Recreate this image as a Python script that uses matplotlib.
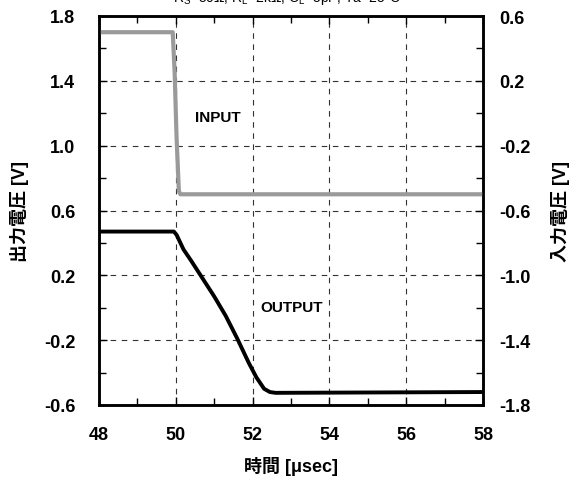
import matplotlib
matplotlib.use("Agg")
import matplotlib.pyplot as plt
from matplotlib.ticker import MultipleLocator

plt.rcParams['font.family'] = ['Liberation Sans', 'Noto Sans CJK JP', 'DejaVu Sans']
plt.rcParams['mathtext.fontset'] = 'custom'
plt.rcParams['mathtext.rm'] = 'Liberation Sans'
plt.rcParams['mathtext.it'] = 'Liberation Sans'
plt.rcParams['mathtext.bf'] = 'Liberation Sans:bold'

# Data
input_t = [48.0, 49.92, 49.97, 50.02, 50.08, 50.12, 58.0]
input_v = [0.5, 0.5, 0.25, -0.15, -0.48, -0.5, -0.5]

output_t = [48.0, 49.95, 50.02, 50.1, 50.2, 50.4, 50.7, 51.0, 51.3, 51.6, 51.9, 52.1, 52.3, 52.45, 52.6, 58.0]
output_v = [0.47, 0.47, 0.45, 0.41, 0.36, 0.29, 0.18, 0.07, -0.05, -0.19, -0.34, -0.43, -0.50, -0.52, -0.525, -0.52]

x_ticks = [48, 50, 52, 54, 56, 58]
left_ticks = [-0.6, -0.2, 0.2, 0.6, 1.0, 1.4, 1.8]
right_ticks = [-1.8, -1.4, -1.0, -0.6, -0.2, 0.2, 0.6]

title = r"R$_S$=50Ω, R$_L$=2kΩ, C$_L$=5pF, Ta=25°C"

fig = plt.figure(figsize=(5.72, 4.85), dpi=100)
ax = fig.add_axes([99/572, 1-406/485, (483-99)/572, (406-17)/485])
ax2 = ax.twinx()

ax.set_xlim(48, 58)
ax.set_ylim(-0.6, 1.8)
ax2.set_ylim(-1.8, 0.6)

ax2.plot(input_t, input_v, color='#9a9a9a', lw=3.0, solid_capstyle='butt')
ax.plot(output_t, output_v, color='black', lw=2.8, solid_capstyle='butt')

ax.set_xticks(x_ticks)
ax.set_xticklabels([f"{v:d}" for v in x_ticks])
ax.set_yticks(left_ticks)
ax.set_yticklabels([f"{v:.1f}" for v in left_ticks])
ax2.set_yticks(right_ticks)
ax2.set_yticklabels([f"{v:.1f}" for v in right_ticks])
ax.xaxis.set_minor_locator(MultipleLocator(1))
ax.yaxis.set_minor_locator(MultipleLocator(0.2))
ax2.yaxis.set_minor_locator(MultipleLocator(0.2))

ax.grid(True, which='major', linestyle=(0, (5, 5)), color='#333333', lw=0.8)

for a in (ax, ax2):
    for s in a.spines.values():
        s.set_linewidth(1.8)
    a.tick_params(which='both', direction='in', width=1.0)
    a.tick_params(which='major', length=6, labelsize=13)
    a.tick_params(which='minor', length=5)
    for lbl in a.get_xticklabels() + a.get_yticklabels():
        lbl.set_fontweight('bold')
ax.tick_params(axis='x', which='both', top=True, pad=15)
ax.tick_params(axis='y', pad=17)
ax2.tick_params(axis='y', pad=12)

fig.text(291/572, 1-467/485, "時間 [μsec]", ha='center', va='center', fontsize=13, fontweight='bold')
fig.text(20/572, 1-211/485, "出力電圧 [V]", ha='center', va='center', rotation=90, fontsize=13, fontweight='bold')
fig.text(560/572, 1-211/485, "入力電圧 [V]", ha='center', va='center', rotation=90, fontsize=13, fontweight='bold')

fig.text(218/572, 1-118/485, "INPUT", ha='center', va='center', fontsize=11, fontweight='bold')
fig.text(292/572, 1-308/485, "OUTPUT", ha='center', va='center', fontsize=11, fontweight='bold')
fig.text(287/572, 1+2/485, title, ha='center', va='center', fontsize=10)

fig.savefig("out.png", dpi=100)
